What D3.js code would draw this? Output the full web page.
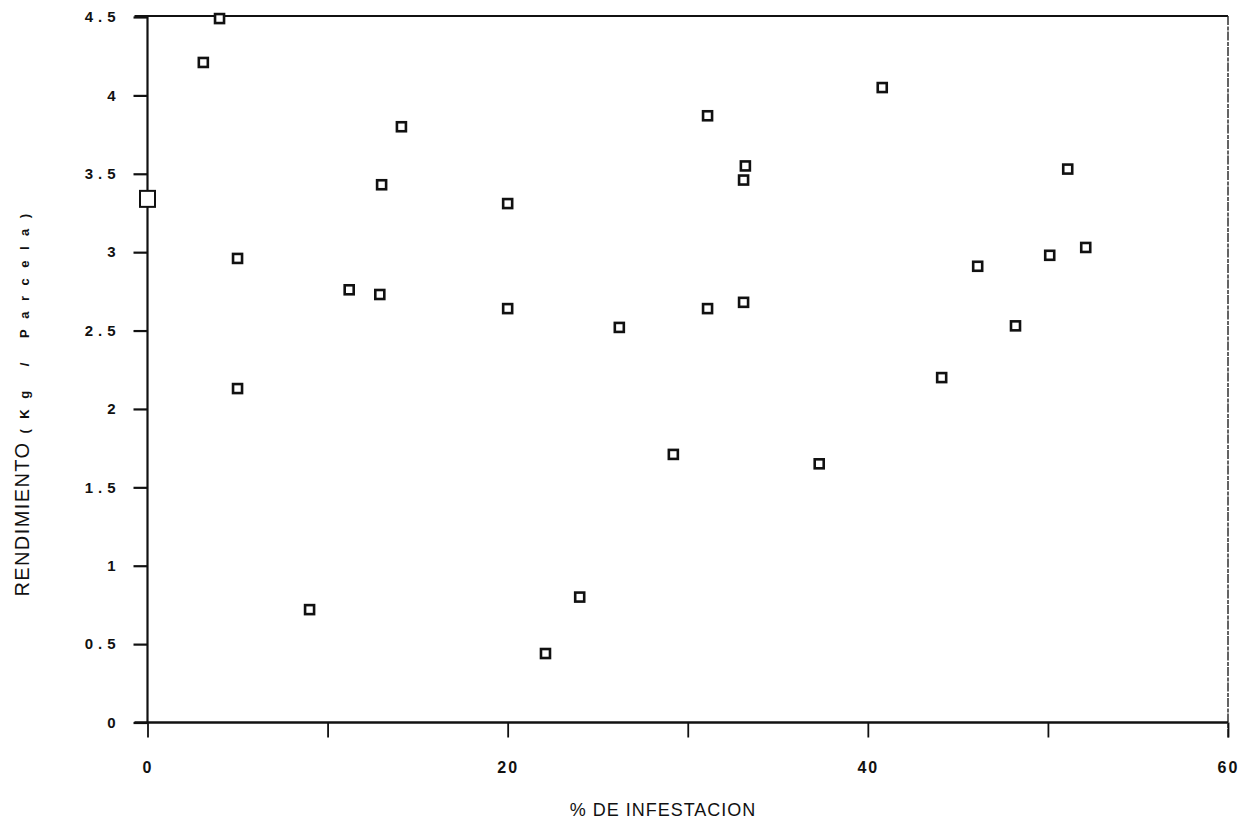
<!DOCTYPE html>
<html>
<head>
<meta charset="utf-8">
<script src="https://cdn.jsdelivr.net/npm/d3@7"></script>
<style>
  html, body { margin: 0; padding: 0; background: #fff; }
  svg { display: block; }
</style>
</head>
<body>
<svg id="chart" width="1258" height="832"></svg>
<script>
// ---- data ----
const infestacion = [0, 3.1, 4.0, 5.0, 5.0, 9.0, 11.2, 13.0, 12.9, 14.1, 20.0, 20.0, 22.1, 24.0, 26.2, 29.2, 31.1, 31.1, 33.2, 33.1, 33.1, 37.3, 40.8, 44.1, 46.1, 48.2, 50.1, 51.1, 52.1];
const rendimiento = [3.34, 4.21, 4.49, 2.96, 2.13, 0.72, 2.76, 3.43, 2.73, 3.80, 3.31, 2.64, 0.44, 0.80, 2.52, 1.71, 3.87, 2.64, 3.55, 3.46, 2.68, 1.65, 4.05, 2.20, 2.91, 2.53, 2.98, 3.53, 3.03];
const xTickValues = [0, 10, 20, 30, 40, 50, 60];
const xTickLabels = ["0", "", "20", "", "40", "", "60"];
const yTickValues = [0, 0.5, 1, 1.5, 2, 2.5, 3, 3.5, 4, 4.5];
const yTickLabels = ["0", "0.5", "1", "1.5", "2", "2.5", "3", "3.5", "4", "4.5"];
const xTitle = "% DE INFESTACION";
const yTitleMain = "RENDIMIENTO";
const yTitleUnit = "(Kg / Parcela)";

(function () {
const svg = d3.select("#chart");
const L = 147.5, R = 1228, T = 17, B = 722.5;

const x = d3.scaleLinear().domain([0, 60]).range([L, R]);
const y = d3.scaleLinear().domain([0, 4.5]).range([B, T]);

const font = "Liberation Sans, Arial, sans-serif";

// frame: top and right
svg.append("line").attr("x1", L - 13).attr("x2", R).attr("y1", y(4.5) - 1).attr("y2", y(4.5) - 1)
  .attr("stroke", "#111").attr("stroke-width", 2.2);
svg.append("line").attr("x1", R).attr("x2", R).attr("y1", y(4.5) - 1).attr("y2", B + 15)
  .attr("stroke", "#222").attr("stroke-width", 1.4).attr("stroke-dasharray", "9,1.5,4,1");

// y axis
const yAxis = svg.append("g").attr("transform", `translate(${L},0)`)
  .call(d3.axisLeft(y).tickValues(yTickValues).tickSize(14).tickPadding(18)
    .tickFormat((d, i) => yTickLabels[i]));
yAxis.select(".domain").attr("stroke", "#111").attr("stroke-width", 2.2).attr("d", `M0,${T - 1}V${B}`);
yAxis.selectAll(".tick line").attr("stroke", "#111").attr("stroke-width", 2.2);
yAxis.selectAll(".tick text").attr("font-family", font).attr("font-size", 15).attr("font-weight", "bold")
  .attr("fill", "#111").style("letter-spacing", "5px").attr("dx", 5);

// x axis
const xAxis = svg.append("g").attr("transform", `translate(0,${B})`)
  .call(d3.axisBottom(x).tickValues(xTickValues).tickSize(15).tickPadding(24)
    .tickFormat((d, i) => xTickLabels[i]));
xAxis.select(".domain").attr("stroke", "#111").attr("stroke-width", 2.4).attr("d", `M${L - 13},0H${R}`);
xAxis.selectAll(".tick line").attr("stroke", "#111").attr("stroke-width", 1.8);
xAxis.selectAll(".tick text").attr("font-family", font).attr("font-size", 16).attr("font-weight", "bold")
  .attr("fill", "#111").style("letter-spacing", "2px");

// axis titles
svg.append("text").attr("x", 663).attr("y", 816).attr("text-anchor", "middle")
  .attr("font-family", font).attr("font-size", 18).attr("fill", "#111")
  .style("letter-spacing", "1px").text(xTitle);

const yt = svg.append("text").attr("transform", "translate(29,400) rotate(-90)")
  .attr("text-anchor", "middle").attr("font-family", font).attr("fill", "#111");
yt.append("tspan").attr("font-size", 20).style("letter-spacing", "1.4px").text(yTitleMain);
yt.append("tspan").attr("font-size", 13).attr("font-weight", "bold").attr("dx", 8)
  .style("letter-spacing", "10.5px").text(yTitleUnit);

// points
const pts = d3.range(infestacion.length).map(i => ({ x: infestacion[i], y: rendimiento[i], i }));
svg.append("g").selectAll("rect").data(pts).join("rect")
  .attr("x", d => x(d.x) - (d.i === 0 ? 7.5 : 4.5))
  .attr("y", d => y(d.y) - (d.i === 0 ? 8 : 4.5))
  .attr("width", d => d.i === 0 ? 15 : 9)
  .attr("height", d => d.i === 0 ? 16 : 9)
  .attr("fill", "#fff").attr("stroke", "#111")
  .attr("stroke-width", d => d.i === 0 ? 2 : 2.6);
})();
</script>
</body>
</html>
